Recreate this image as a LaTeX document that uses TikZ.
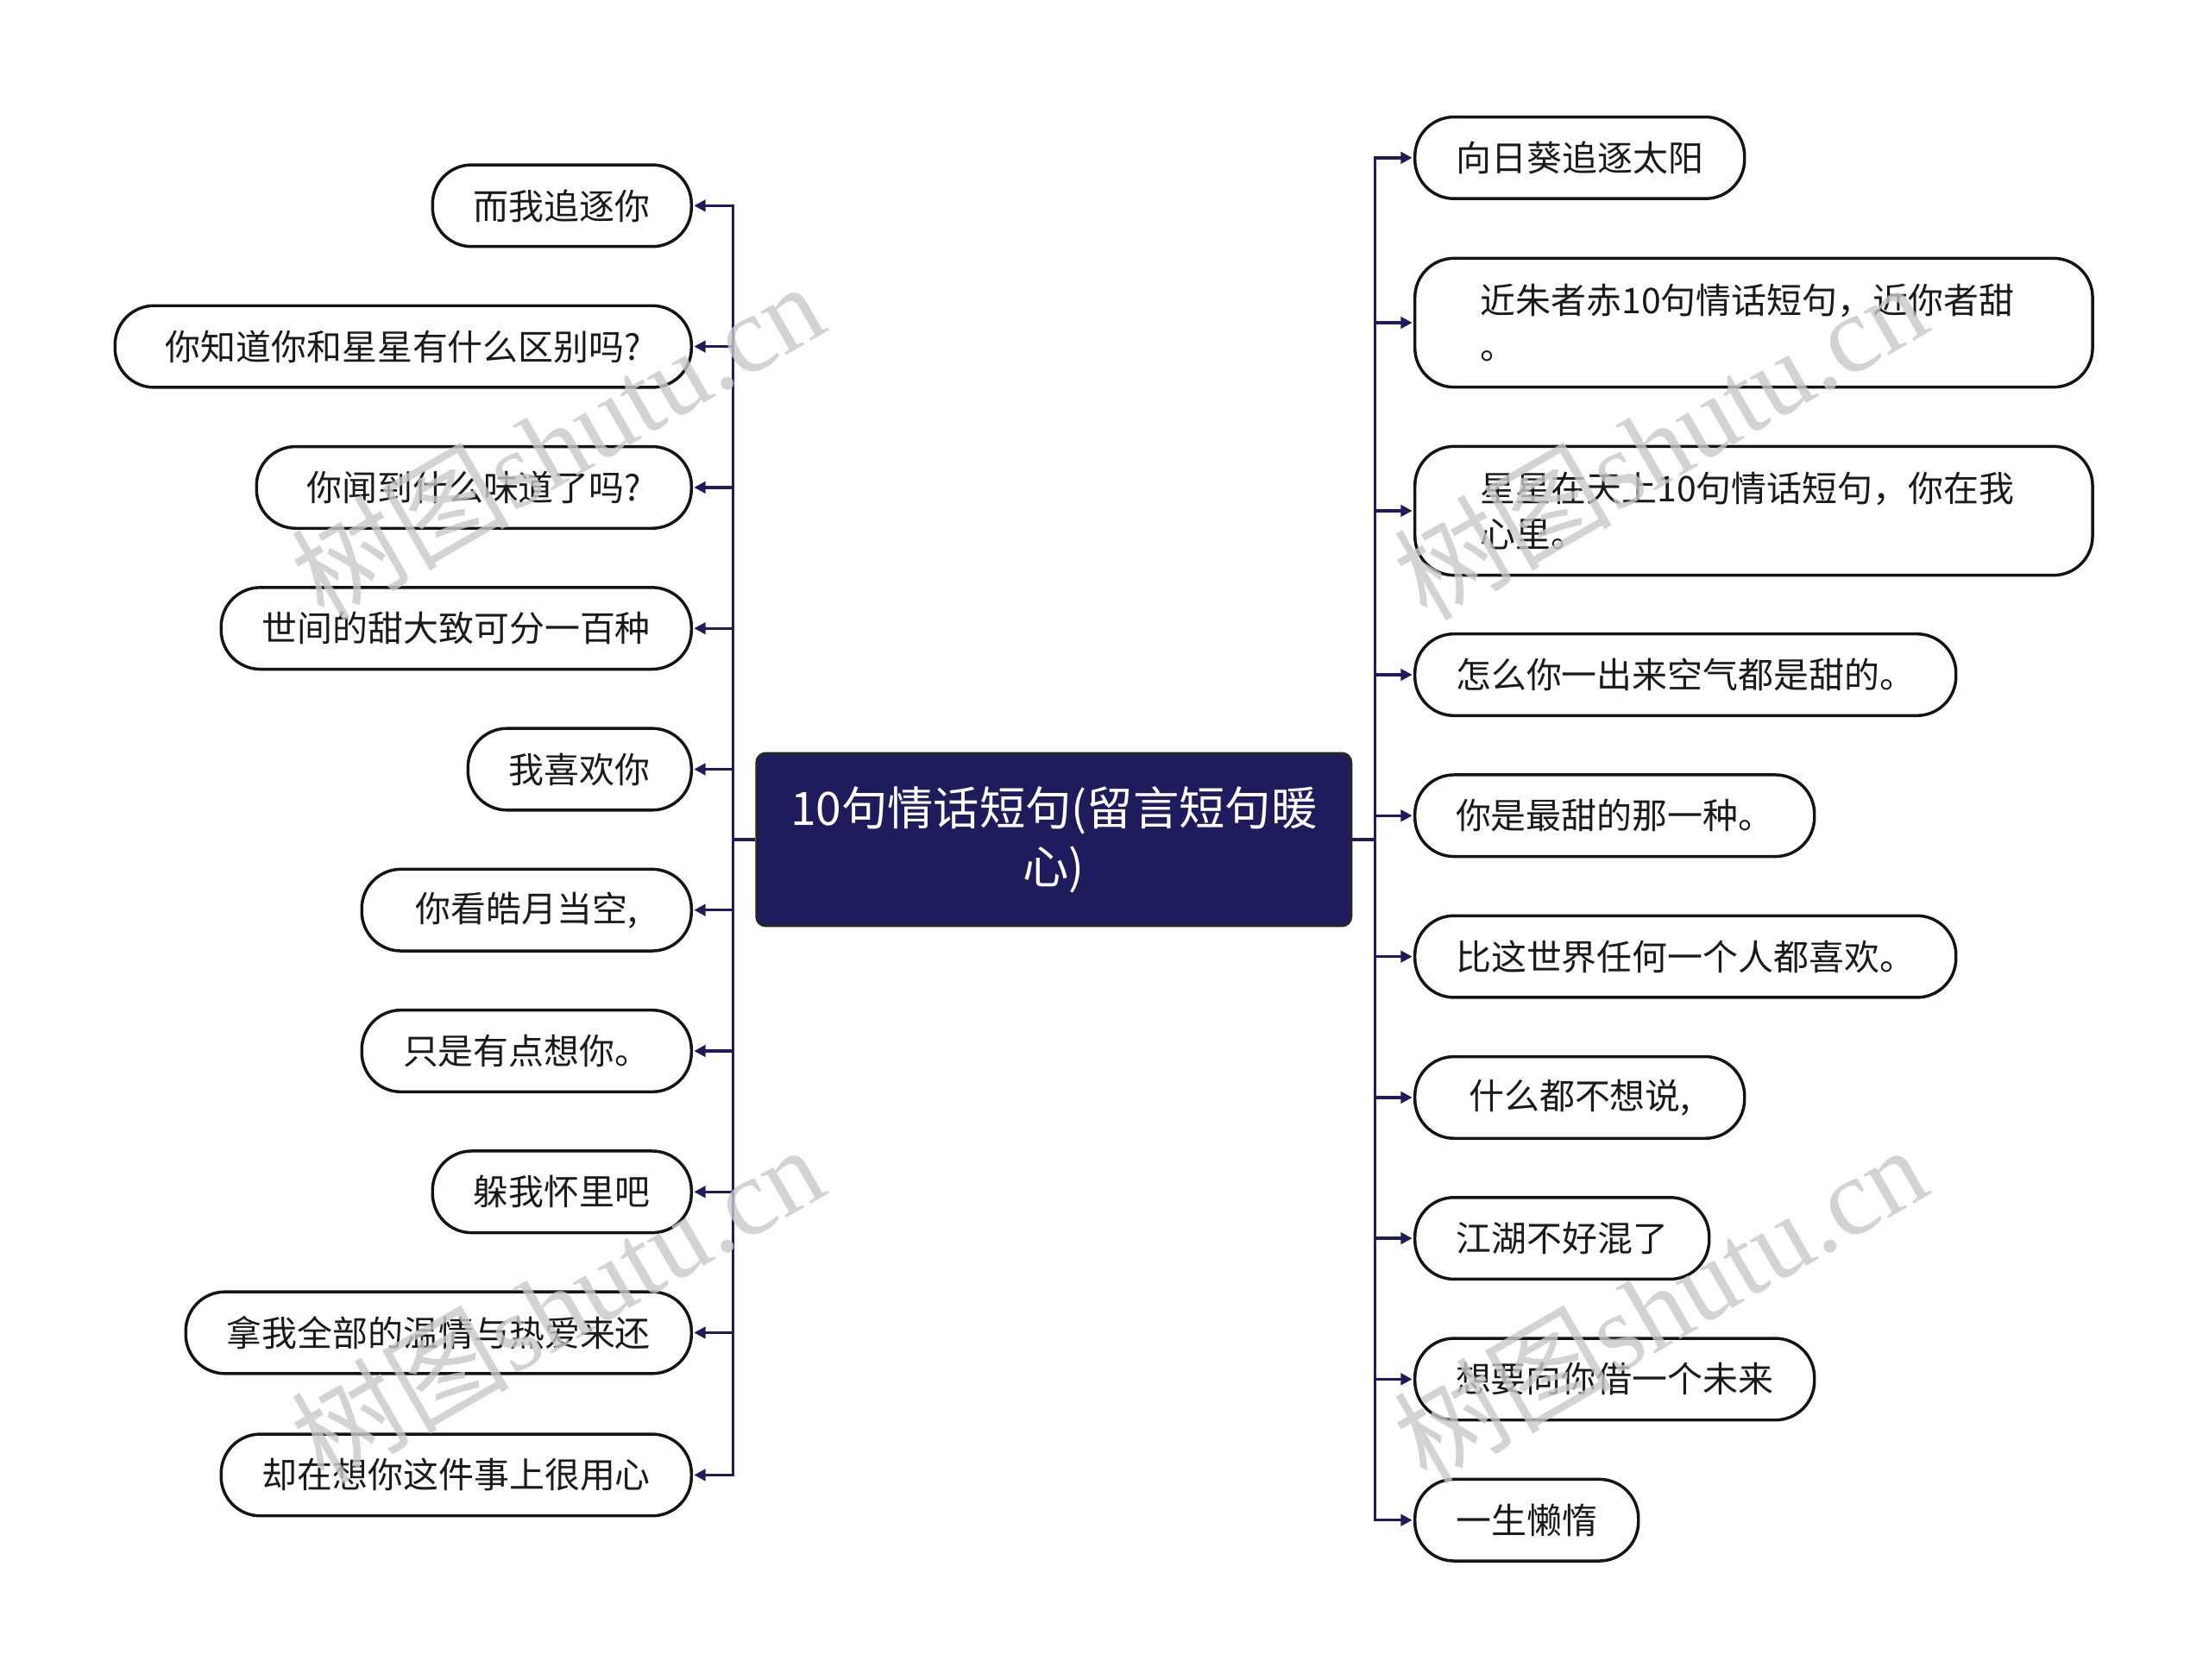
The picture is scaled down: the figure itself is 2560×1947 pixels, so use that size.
\documentclass[tikz,border=0pt]{standalone}
\usepackage{fontspec}
\setmainfont{Noto Sans CJK SC}
\newfontfamily\wmserif{Liberation Serif}
\usetikzlibrary{arrows.meta}
\definecolor{navy}{HTML}{1E1C5C}
\definecolor{leaftext}{HTML}{1A1A1A}
\definecolor{wmgray}{HTML}{C8C8C8}
\newcommand\lleaf[4]{\node[leaf, anchor=east, minimum width={#3*0.75}] (#1) at (803,#2) {#4};}
\newcommand\rleaf[4]{\node[leaf, anchor=west, minimum width={#3*0.75}] (#1) at (1638,#2) {#4};}
\begin{document}
\begin{tikzpicture}[x=0.75pt,y=-0.75pt,
  leaf/.style={draw=black!92, line width=2.6pt, fill=white, rounded corners=34pt,
    minimum height=71pt, inner sep=0pt, text=leaftext, font=\fontsize{30.7}{40}\selectfont},
  tallleaf/.style={leaf, anchor=west, minimum height=112pt, text width=475pt,
    align=left, inner xsep=57pt},
  root/.style={draw=black!85, line width=2.2pt, fill=navy, rounded corners=8pt,
    text=white, font=\fontsize{40}{51}\selectfont, align=center, inner sep=0pt,
    minimum width=516.75pt, minimum height=150pt},
  conn/.style={draw=navy, line width=2.5pt, -{Triangle[length=10pt,width=10pt]}, shorten >=1pt},
  wmark/.style={text=wmgray, opacity=0.8, rotate=30, inner sep=0pt, font=\fontsize{95}{95}\selectfont}
]
\fill[white] (0,0) rectangle (2560,1947);
\useasboundingbox (0,0) rectangle (2560,1947);

\node[root] (C) at (1221.3,973) {10句情话短句(留言短句暖\\心)};

\lleaf{L1}{238.4}{300}{而我追逐你}
\lleaf{L2}{401.6}{668}{你知道你和星星有什么区别吗?}
\lleaf{L3}{564.9}{504}{你闻到什么味道了吗?}
\lleaf{L4}{728.2}{545}{世间的甜大致可分一百种}
\lleaf{L5}{891.5}{259}{我喜欢你}
\lleaf{L6}{1054.7}{382}{你看皓月当空,}
\lleaf{L7}{1218}{382}{只是有点想你。}
\lleaf{L8}{1381.3}{300}{躲我怀里吧}
\lleaf{L9}{1544.5}{586}{拿我全部的温情与热爱来还}
\lleaf{L10}{1709.4}{545}{却在想你这件事上很用心}

\rleaf{R1}{182.9}{382}{向日葵追逐太阳}
\node[tallleaf] (R2) at (1638,374) {近朱者赤10句情话短句，近你者甜\\。};
\node[tallleaf] (R3) at (1638,592) {星星在天上10句情话短句，你在我\\心里。};
\rleaf{R4}{782}{627}{怎么你一出来空气都是甜的。}
\rleaf{R5}{945.3}{463}{你是最甜的那一种。}
\rleaf{R6}{1108.6}{627}{比这世界任何一个人都喜欢。}
\rleaf{R7}{1271.9}{382}{什么都不想说,}
\rleaf{R8}{1435.1}{341}{江湖不好混了}
\rleaf{R9}{1598.4}{463}{想要向你借一个未来}
\rleaf{R10}{1761.7}{259}{一生懒惰}

\foreach \n in {1,...,10} {
  \draw[conn] (C.west) -- ++(-26,0) |- (L\n.east);
  \draw[conn] (C.east) -- ++(26,0) |- (R\n.west);
}

\node[wmark] (W1) at (645,510) {树图{\wmserif shutu.cn}};
\node[wmark] (W2) at (1923,510) {树图{\wmserif shutu.cn}};
\node[wmark] (W3) at (645,1510) {树图{\wmserif shutu.cn}};
\node[wmark] (W4) at (1923,1510) {树图{\wmserif shutu.cn}};
\end{tikzpicture}
\end{document}
